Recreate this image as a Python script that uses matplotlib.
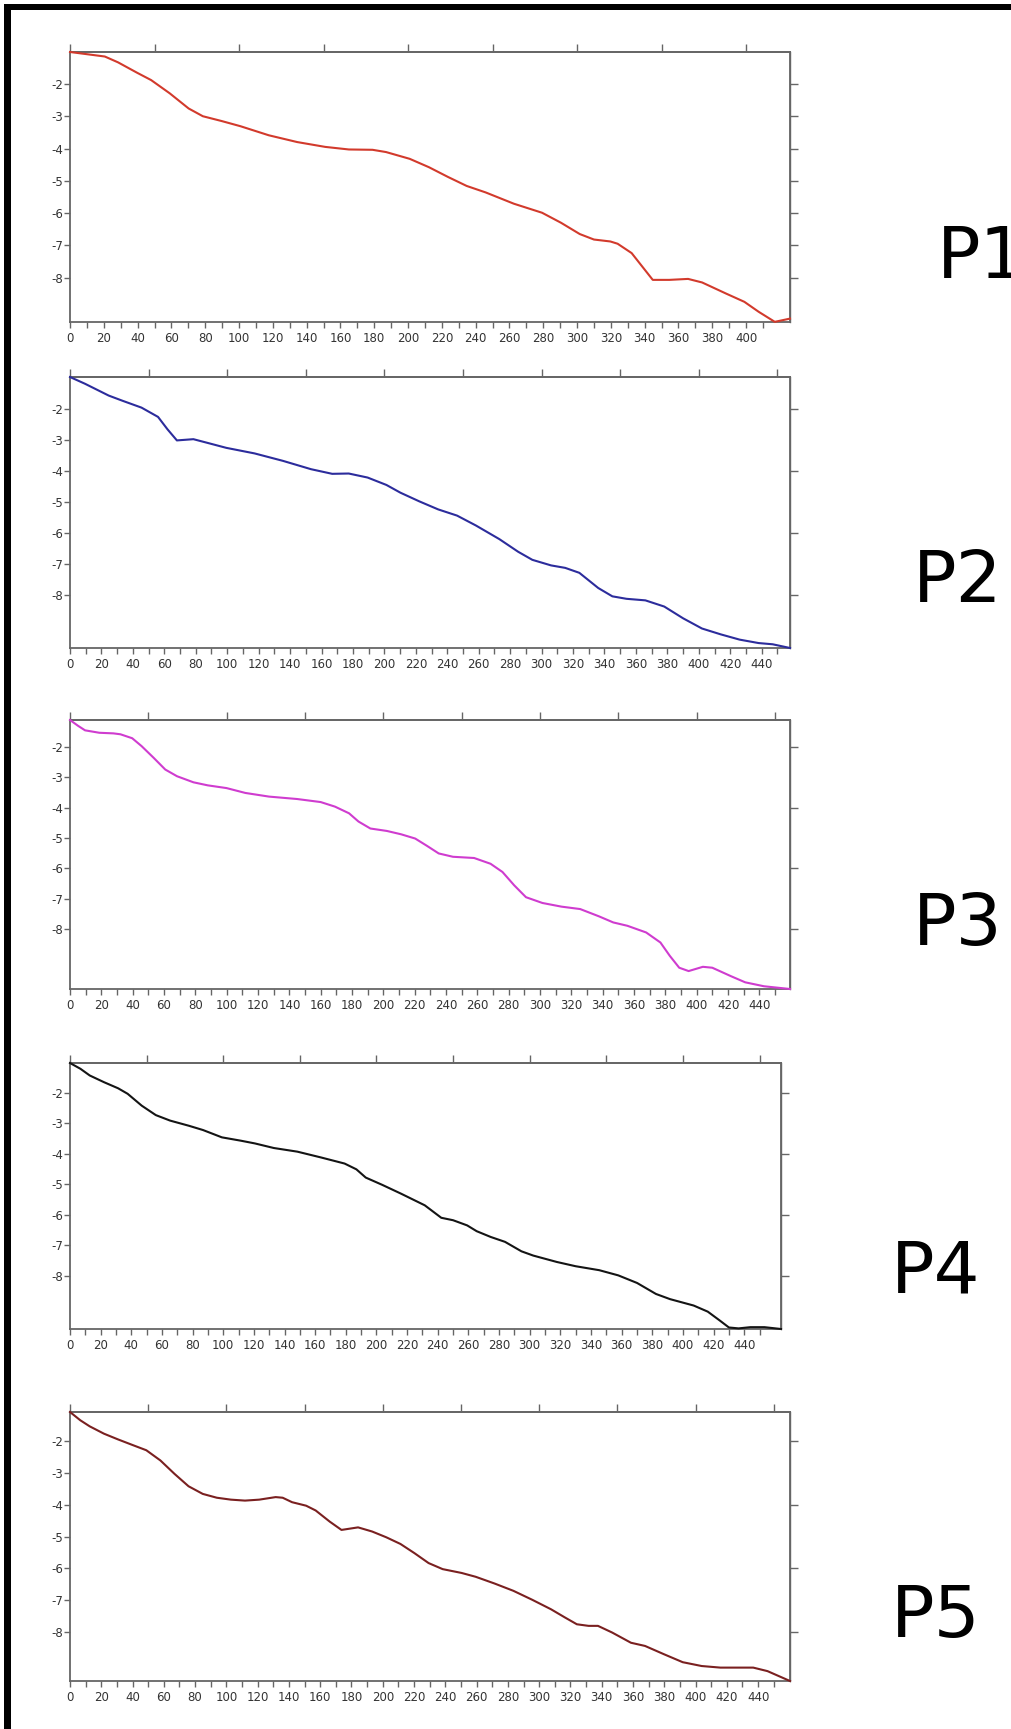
import matplotlib
matplotlib.use("Agg")
import matplotlib.pyplot as plt
from matplotlib.patches import Rectangle

plt.rcParams['axes.unicode_minus'] = False

# profile P1
p1_x = [0, 20.6, 28.4, 39.6, 48, 59, 70.2, 78.6, 89.8, 100.9, 117.6, 134.4, 151, 165,
        179, 187, 201, 212.4, 223.6, 234.7, 245.9, 262.6, 279.3, 290.5, 301.6, 310,
        319.7, 324, 332.3, 344.8, 354.6, 365.7, 374, 388, 399, 407.5, 417, 426]
p1_y = [-1.01, -1.15, -1.33, -1.65, -1.88, -2.29, -2.76, -3.0, -3.15, -3.31, -3.59,
        -3.80, -3.95, -4.03, -4.04, -4.11, -4.32, -4.58, -4.88, -5.16, -5.36, -5.71,
        -5.99, -6.30, -6.65, -6.82, -6.88, -6.95, -7.24, -8.07, -8.07, -8.04, -8.15,
        -8.49, -8.75, -9.06, -9.37, -9.27]

# profile P2
p2_x = [0, 9.6, 24.6, 33.5, 45.5, 56, 62, 68, 78.5, 87.5, 99.4, 117.4, 135.4, 153.3,
        166.8, 177.3, 189.3, 201.3, 210.2, 222.2, 234.2, 246.2, 258.2, 273.1, 285.1,
        294.1, 306, 315, 324, 336, 345, 354, 366, 378, 390, 402, 414, 426, 438, 447, 458]
p2_y = [-0.96, -1.18, -1.56, -1.73, -1.95, -2.25, -2.65, -3.01, -2.97, -3.09, -3.25,
        -3.43, -3.67, -3.94, -4.09, -4.08, -4.21, -4.45, -4.70, -4.98, -5.24, -5.44,
        -5.76, -6.20, -6.61, -6.87, -7.05, -7.13, -7.29, -7.78, -8.05, -8.13, -8.18,
        -8.38, -8.76, -9.09, -9.28, -9.45, -9.56, -9.60, -9.72]

# profile P3
p3_x = [0, 5.1, 9.6, 18.7, 27.7, 32.2, 39.7, 45.7, 53.3, 60.8, 68.3, 78.8, 87.9, 99.9,
        111.9, 127, 145, 160, 169.1, 178.1, 184.1, 191.7, 202.2, 211.3, 220.3, 227.8,
        235.3, 244.4, 257.9, 268.4, 276, 283.5, 291, 301.5, 313.6, 325.6, 337.6, 346.7,
        355.7, 367.7, 376.8, 382.8, 388.8, 394.8, 403.9, 409.9, 421.9, 430.9, 442.9, 459.5]
p3_y = [-1.12, -1.31, -1.46, -1.54, -1.56, -1.59, -1.72, -1.98, -2.36, -2.75, -2.97,
        -3.17, -3.27, -3.36, -3.52, -3.64, -3.72, -3.82, -3.97, -4.19, -4.46, -4.69,
        -4.77, -4.88, -5.02, -5.26, -5.51, -5.62, -5.66, -5.85, -6.12, -6.56, -6.95,
        -7.14, -7.26, -7.34, -7.58, -7.78, -7.89, -8.11, -8.44, -8.88, -9.27, -9.38,
        -9.24, -9.27, -9.55, -9.75, -9.88, -9.97]

# profile P4
p4_x = [0, 6.8, 12.9, 22.2, 31.4, 37.6, 46.8, 56, 65.3, 77.6, 86.8, 99.1, 111.5, 120.7,
        133, 148.4, 163.8, 179.2, 186.9, 193, 203.8, 216.1, 231.5, 242.3, 250, 259.2,
        265.4, 274.6, 283.9, 294.6, 302.3, 317.7, 330, 345.4, 357.8, 370.1, 382.4,
        391.6, 407, 416.2, 424, 430, 436.3, 444, 453.2, 464]
p4_y = [-1.02, -1.21, -1.43, -1.65, -1.85, -2.03, -2.42, -2.73, -2.91, -3.08, -3.22,
        -3.46, -3.57, -3.66, -3.81, -3.93, -4.12, -4.32, -4.51, -4.78, -5.02, -5.31,
        -5.69, -6.10, -6.18, -6.35, -6.54, -6.73, -6.89, -7.20, -7.34, -7.55, -7.69,
        -7.82, -7.99, -8.24, -8.60, -8.77, -8.98, -9.18, -9.47, -9.70, -9.73, -9.69,
        -9.69, -9.75]

# profile P5
p5_x = [0, 6.6, 12.6, 21.7, 30.7, 39.7, 48.8, 57.8, 66.8, 75.8, 84.9, 93.9, 102.9,
        111.9, 121, 131.5, 136, 142, 151, 157.1, 166.1, 173.6, 184.2, 193.2, 202.2,
        211.3, 220.3, 229.3, 238.3, 250.4, 259.4, 271.4, 283.5, 295.5, 307.6, 316.6,
        324.1, 331.6, 337.6, 346.7, 358.7, 367.7, 379.8, 391.8, 403.9, 415.9, 427.9,
        436.9, 446, 460.4]
p5_y = [-1.09, -1.35, -1.54, -1.77, -1.95, -2.12, -2.29, -2.61, -3.03, -3.42, -3.66,
        -3.78, -3.84, -3.87, -3.84, -3.76, -3.78, -3.92, -4.03, -4.18, -4.53, -4.79,
        -4.71, -4.84, -5.02, -5.23, -5.52, -5.83, -6.02, -6.14, -6.26, -6.47, -6.70,
        -6.98, -7.28, -7.54, -7.75, -7.80, -7.80, -8.01, -8.33, -8.43, -8.69, -8.94,
        -9.06, -9.11, -9.11, -9.11, -9.22, -9.53]

names = ["P1", "P2", "P3", "P4", "P5"]
colors = ["#d23a2c", "#2c2c9c", "#cf3ccf", "#141414", "#7a2020"]
x_max = [426, 458, 459.5, 464, 460.4]
y_lims = [(-9.375, -1.01), (-9.72, -0.96), (-9.97, -1.12), (-9.75, -1.02), (-9.53, -1.09)]
label_max = [400, 440, 440, 440, 440]
right_ticks = [[-2, -3, -4, -5, -6, -7, -8]] + [[-2, -4, -6, -8]] * 4
series = [(p1_x, p1_y), (p2_x, p2_y), (p3_x, p3_y), (p4_x, p4_y), (p5_x, p5_y)]

W, H = 1011, 1729
fig = plt.figure(figsize=(W / 100, H / 100), dpi=100)

# panel boxes in pixels: left, top, right, bottom
boxes = [(70, 52, 790, 322), (70, 377, 790, 648), (70, 720, 790, 989),
         (70, 1063, 781, 1329), (70, 1412, 790, 1681)]
# label anchors (left x, centre y) in pixels
label_pos = [(937, 258), (913, 582), (913, 926), (891, 1273), (891, 1618)]

spine_col = "#666666"
text_col = "#333333"

for i in range(5):
    l, t, r, b = boxes[i]
    ax = fig.add_axes([l / W, 1 - b / H, (r - l) / W, (b - t) / H])
    xs, ys = series[i]
    ax.plot(xs, ys, color=colors[i], lw=1.5, clip_on=False, zorder=3)
    ax.set_xlim(0, x_max[i])
    ax.set_ylim(*y_lims[i])

    ax.set_xticks(range(0, label_max[i] + 1, 20))
    ax.set_xticks(range(10, label_max[i] + 11, 20), minor=True)
    ax.set_yticks([-2, -3, -4, -5, -6, -7, -8])
    ax.tick_params(axis='x', which='both', direction='out', length=4, width=1,
                   color=spine_col, labelsize=8.5, labelcolor=text_col, pad=3)
    ax.tick_params(axis='y', direction='out', length=4, width=1,
                   color=spine_col, labelsize=8.5, labelcolor=text_col, pad=1)

    top = ax.secondary_xaxis('top')
    top.set_xticks(range(0, int(x_max[i]) + 1, 50))
    top.tick_params(direction='out', length=6, width=1, color=spine_col, labeltop=False)
    top.spines['top'].set_color(spine_col)
    top.spines['top'].set_linewidth(1.3)

    right = ax.secondary_yaxis('right')
    right.set_yticks(right_ticks[i])
    right.tick_params(direction='out', length=6, width=1, color=spine_col, labelright=False)
    right.spines['right'].set_color(spine_col)
    right.spines['right'].set_linewidth(1.0)

    for side in ['left', 'bottom', 'top', 'right']:
        ax.spines[side].set_color(spine_col)
        ax.spines[side].set_linewidth(1.3)

    lx, ly = label_pos[i]
    fig.text(lx / W, 1 - ly / H, names[i], fontsize=52, color="black",
             ha='left', va='center')

# black border along the top and left edges
fig.add_artist(Rectangle((4 / W, 1 - 10 / H), 1, 6 / H, transform=fig.transFigure,
                         color="black", lw=0))
fig.add_artist(Rectangle((4 / W, 0), 7 / W, 1 - 4 / H, transform=fig.transFigure,
                         color="black", lw=0))

fig.savefig("out.png", dpi=100)
